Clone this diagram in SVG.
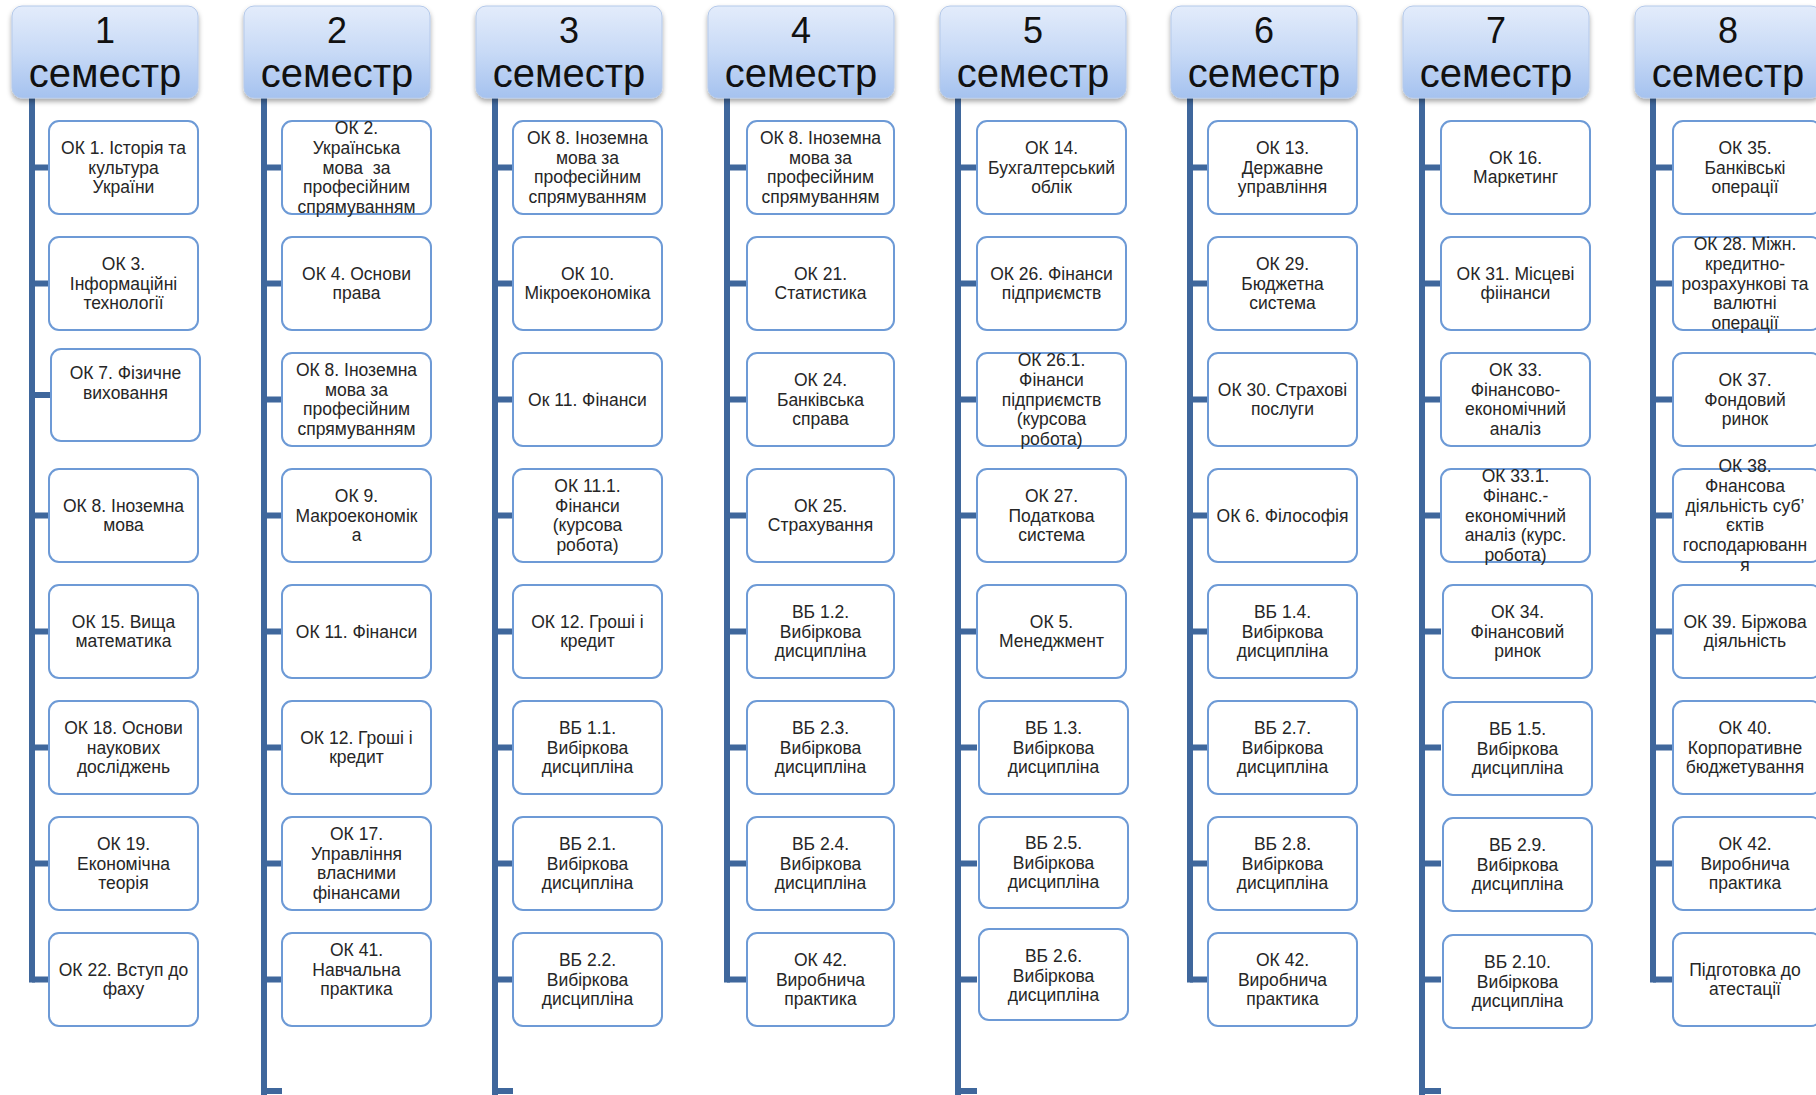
<svg xmlns="http://www.w3.org/2000/svg" width="1816" height="1095" viewBox="0 0 1816 1095">
<defs>
<linearGradient id="hg" x1="0" y1="0" x2="0" y2="1">
<stop offset="0" stop-color="#e3ecfb"/>
<stop offset="0.5" stop-color="#c8daf6"/>
<stop offset="1" stop-color="#a5c2ef"/>
</linearGradient>
<filter id="sh" x="-10%" y="-10%" width="120%" height="135%">
<feDropShadow dx="0" dy="3" stdDeviation="2.5" flood-color="#000" flood-opacity="0.35"/>
</filter>
</defs>
<style>
.hb{fill:url(#hg);stroke:#b4c9ea;stroke-width:1;filter:url(#sh)}
.ht{font-family:"Liberation Sans",Arial,sans-serif;fill:#111;text-anchor:middle}
.hn{font-size:36px}
.hs{font-size:40px}
.box{fill:#fff;stroke:#6d9ad6;stroke-width:2}
.bt{font-family:"Liberation Sans",Arial,sans-serif;font-size:17.5px;fill:#262626;text-anchor:middle}
.cv{stroke:#3f679c;stroke-width:6;fill:none}
</style>
<rect width="1816" height="1095" fill="#fff"/>
<g id="connectors">
<path class="cv" d="M32 98V982.5M264 98V1095M495 98V1095M727 98V982.5M958 98V1095M1190 98V982.5M1422 98V1095M1653 98V982.5"/>
<path class="cv" d="M32 167.5H49M32 283.5H49M32 395H51M32 515.5H49M32 631.5H49M32 747.5H49M32 863.5H49M32 979.5H49"/>
<path class="cv" d="M264 167.5H282M264 283.5H282M264 399.5H282M264 515.5H282M264 631.5H282M264 747.5H282M264 863.5H282M264 979.5H282M264 1091H282"/>
<path class="cv" d="M495 167.5H513M495 283.5H513M495 399.5H513M495 515.5H513M495 631.5H513M495 747.5H513M495 863.5H513M495 979.5H513M495 1091H513"/>
<path class="cv" d="M727 167.5H747M727 283.5H747M727 399.5H747M727 515.5H747M727 631.5H747M727 747.5H747M727 863.5H747M727 979.5H747"/>
<path class="cv" d="M958 167.5H977M958 283.5H977M958 399.5H977M958 515.5H977M958 631.5H977M958 747.5H977M958 863.5H977M958 979.5H977M958 1091H977"/>
<path class="cv" d="M1190 167.5H1208M1190 283.5H1208M1190 399.5H1208M1190 515.5H1208M1190 631.5H1208M1190 747.5H1208M1190 863.5H1208M1190 979.5H1208"/>
<path class="cv" d="M1422 167.5H1441M1422 283.5H1441M1422 399.5H1441M1422 515.5H1441M1422 631.5H1441M1422 747.5H1441M1422 863.5H1441M1422 979.5H1441M1422 1091H1441"/>
<path class="cv" d="M1653 167.5H1673M1653 283.5H1673M1653 399.5H1673M1653 515.5H1673M1653 631.5H1673M1653 747.5H1673M1653 863.5H1673M1653 979.5H1673"/>
</g>

<g id="h1"><rect class="hb" x="12" y="6" width="186" height="92" rx="10"/><text class="ht hn" x="105" y="43">1</text><text class="ht hs" x="105" y="87">семестр</text></g>
<g id="h2"><rect class="hb" x="244" y="6" width="186" height="92" rx="10"/><text class="ht hn" x="337" y="43">2</text><text class="ht hs" x="337" y="87">семестр</text></g>
<g id="h3"><rect class="hb" x="476" y="6" width="186" height="92" rx="10"/><text class="ht hn" x="569" y="43">3</text><text class="ht hs" x="569" y="87">семестр</text></g>
<g id="h4"><rect class="hb" x="708" y="6" width="186" height="92" rx="10"/><text class="ht hn" x="801" y="43">4</text><text class="ht hs" x="801" y="87">семестр</text></g>
<g id="h5"><rect class="hb" x="940" y="6" width="186" height="92" rx="10"/><text class="ht hn" x="1033" y="43">5</text><text class="ht hs" x="1033" y="87">семестр</text></g>
<g id="h6"><rect class="hb" x="1171" y="6" width="186" height="92" rx="10"/><text class="ht hn" x="1264" y="43">6</text><text class="ht hs" x="1264" y="87">семестр</text></g>
<g id="h7"><rect class="hb" x="1403" y="6" width="186" height="92" rx="10"/><text class="ht hn" x="1496" y="43">7</text><text class="ht hs" x="1496" y="87">семестр</text></g>
<g id="h8"><rect class="hb" x="1635" y="6" width="186" height="92" rx="10"/><text class="ht hn" x="1728" y="43">8</text><text class="ht hs" x="1728" y="87">семестр</text></g>

<!-- Column 1 -->
<g id="c1r0"><rect class="box" x="49" y="121" width="149" height="93" rx="10"/><text class="bt" x="123.5" y="153.8"><tspan x="123.5">ОК 1. Історія та</tspan><tspan x="123.5" dy="19.7">культура</tspan><tspan x="123.5" dy="19.7">України</tspan></text></g>
<g id="c1r1"><rect class="box" x="49" y="237" width="149" height="93" rx="10"/><text class="bt" x="123.5" y="269.8"><tspan x="123.5">ОК 3.</tspan><tspan x="123.5" dy="19.7">Інформаційні</tspan><tspan x="123.5" dy="19.7">технології</tspan></text></g>
<g id="c1r2"><rect class="box" x="51" y="349" width="149" height="92" rx="10"/><text class="bt" x="125.5" y="379"><tspan x="125.5">ОК 7. Фізичне</tspan><tspan x="125.5" dy="19.7">виховання</tspan></text></g>
<g id="c1r3"><rect class="box" x="49" y="469" width="149" height="93" rx="10"/><text class="bt" x="123.5" y="511.65"><tspan x="123.5">ОК 8. Іноземна</tspan><tspan x="123.5" dy="19.7">мова</tspan></text></g>
<g id="c1r4"><rect class="box" x="49" y="585" width="149" height="93" rx="10"/><text class="bt" x="123.5" y="627.65"><tspan x="123.5">ОК 15. Вища</tspan><tspan x="123.5" dy="19.7">математика</tspan></text></g>
<g id="c1r5"><rect class="box" x="49" y="701" width="149" height="93" rx="10"/><text class="bt" x="123.5" y="733.8"><tspan x="123.5">ОК 18. Основи</tspan><tspan x="123.5" dy="19.7">наукових</tspan><tspan x="123.5" dy="19.7">досліджень</tspan></text></g>
<g id="c1r6"><rect class="box" x="49" y="817" width="149" height="93" rx="10"/><text class="bt" x="123.5" y="849.8"><tspan x="123.5">ОК 19.</tspan><tspan x="123.5" dy="19.7">Економічна</tspan><tspan x="123.5" dy="19.7">теорія</tspan></text></g>
<g id="c1r7"><rect class="box" x="49" y="933" width="149" height="93" rx="10"/><text class="bt" x="123.5" y="975.65"><tspan x="123.5">ОК 22. Вступ до</tspan><tspan x="123.5" dy="19.7">фаху</tspan></text></g>

<!-- Column 2 -->
<g id="c2r0"><rect class="box" x="282" y="121" width="149" height="93" rx="10"/><text class="bt" x="356.5" y="134.1" xml:space="preserve"><tspan x="356.5">ОК 2.</tspan><tspan x="356.5" dy="19.7">Українська</tspan><tspan x="356.5" dy="19.7">мова  за</tspan><tspan x="356.5" dy="19.7">професійним</tspan><tspan x="356.5" dy="19.7">спрямуванням</tspan></text></g>
<g id="c2r1"><rect class="box" x="282" y="237" width="149" height="93" rx="10"/><text class="bt" x="356.5" y="279.65"><tspan x="356.5">ОК 4. Основи</tspan><tspan x="356.5" dy="19.7">права</tspan></text></g>
<g id="c2r2"><rect class="box" x="282" y="353" width="149" height="93" rx="10"/><text class="bt" x="356.5" y="375.95"><tspan x="356.5">ОК 8. Іноземна</tspan><tspan x="356.5" dy="19.7">мова за</tspan><tspan x="356.5" dy="19.7">професійним</tspan><tspan x="356.5" dy="19.7">спрямуванням</tspan></text></g>
<g id="c2r3"><rect class="box" x="282" y="469" width="149" height="93" rx="10"/><text class="bt" x="356.5" y="501.8"><tspan x="356.5">ОК 9.</tspan><tspan x="356.5" dy="19.7">Макроекономік</tspan><tspan x="356.5" dy="19.7">а</tspan></text></g>
<g id="c2r4"><rect class="box" x="282" y="585" width="149" height="93" rx="10"/><text class="bt" x="356.5" y="637.5">ОК 11. Фінанси</text></g>
<g id="c2r5"><rect class="box" x="282" y="701" width="149" height="93" rx="10"/><text class="bt" x="356.5" y="743.65"><tspan x="356.5">ОК 12. Гроші і</tspan><tspan x="356.5" dy="19.7">кредит</tspan></text></g>
<g id="c2r6"><rect class="box" x="282" y="817" width="149" height="93" rx="10"/><text class="bt" x="356.5" y="839.95"><tspan x="356.5">ОК 17.</tspan><tspan x="356.5" dy="19.7">Управління</tspan><tspan x="356.5" dy="19.7">власними</tspan><tspan x="356.5" dy="19.7">фінансами</tspan></text></g>
<g id="c2r7"><rect class="box" x="282" y="933" width="149" height="93" rx="10"/><text class="bt" x="356.5" y="955.95"><tspan x="356.5">ОК 41.</tspan><tspan x="356.5" dy="19.7">Навчальна</tspan><tspan x="356.5" dy="19.7">практика</tspan></text></g>

<!-- Column 3 -->
<g id="c3r0"><rect class="box" x="513" y="121" width="149" height="93" rx="10"/><text class="bt" x="587.5" y="143.95"><tspan x="587.5">ОК 8. Іноземна</tspan><tspan x="587.5" dy="19.7">мова за</tspan><tspan x="587.5" dy="19.7">професійним</tspan><tspan x="587.5" dy="19.7">спрямуванням</tspan></text></g>
<g id="c3r1"><rect class="box" x="513" y="237" width="149" height="93" rx="10"/><text class="bt" x="587.5" y="279.65"><tspan x="587.5">ОК 10.</tspan><tspan x="587.5" dy="19.7">Мікроекономіка</tspan></text></g>
<g id="c3r2"><rect class="box" x="513" y="353" width="149" height="93" rx="10"/><text class="bt" x="587.5" y="405.5">Ок 11. Фінанси</text></g>
<g id="c3r3"><rect class="box" x="513" y="469" width="149" height="93" rx="10"/><text class="bt" x="587.5" y="491.95"><tspan x="587.5">ОК 11.1.</tspan><tspan x="587.5" dy="19.7">Фінанси</tspan><tspan x="587.5" dy="19.7">(курсова</tspan><tspan x="587.5" dy="19.7">робота)</tspan></text></g>
<g id="c3r4"><rect class="box" x="513" y="585" width="149" height="93" rx="10"/><text class="bt" x="587.5" y="627.65"><tspan x="587.5">ОК 12. Гроші і</tspan><tspan x="587.5" dy="19.7">кредит</tspan></text></g>
<g id="c3r5"><rect class="box" x="513" y="701" width="149" height="93" rx="10"/><text class="bt" x="587.5" y="733.8"><tspan x="587.5">ВБ 1.1.</tspan><tspan x="587.5" dy="19.7">Вибіркова</tspan><tspan x="587.5" dy="19.7">дисципліна</tspan></text></g>
<g id="c3r6"><rect class="box" x="513" y="817" width="149" height="93" rx="10"/><text class="bt" x="587.5" y="849.8"><tspan x="587.5">ВБ 2.1.</tspan><tspan x="587.5" dy="19.7">Вибіркова</tspan><tspan x="587.5" dy="19.7">дисципліна</tspan></text></g>
<g id="c3r7"><rect class="box" x="513" y="933" width="149" height="93" rx="10"/><text class="bt" x="587.5" y="965.8"><tspan x="587.5">ВБ 2.2.</tspan><tspan x="587.5" dy="19.7">Вибіркова</tspan><tspan x="587.5" dy="19.7">дисципліна</tspan></text></g>

<!-- Column 4 -->
<g id="c4r0"><rect class="box" x="747" y="121" width="147" height="93" rx="10"/><text class="bt" x="820.5" y="143.95"><tspan x="820.5">ОК 8. Іноземна</tspan><tspan x="820.5" dy="19.7">мова за</tspan><tspan x="820.5" dy="19.7">професійним</tspan><tspan x="820.5" dy="19.7">спрямуванням</tspan></text></g>
<g id="c4r1"><rect class="box" x="747" y="237" width="147" height="93" rx="10"/><text class="bt" x="820.5" y="279.65"><tspan x="820.5">ОК 21.</tspan><tspan x="820.5" dy="19.7">Статистика</tspan></text></g>
<g id="c4r2"><rect class="box" x="747" y="353" width="147" height="93" rx="10"/><text class="bt" x="820.5" y="385.8"><tspan x="820.5">ОК 24.</tspan><tspan x="820.5" dy="19.7">Банківська</tspan><tspan x="820.5" dy="19.7">справа</tspan></text></g>
<g id="c4r3"><rect class="box" x="747" y="469" width="147" height="93" rx="10"/><text class="bt" x="820.5" y="511.65"><tspan x="820.5">ОК 25.</tspan><tspan x="820.5" dy="19.7">Страхування</tspan></text></g>
<g id="c4r4"><rect class="box" x="747" y="585" width="147" height="93" rx="10"/><text class="bt" x="820.5" y="617.8"><tspan x="820.5">ВБ 1.2.</tspan><tspan x="820.5" dy="19.7">Вибіркова</tspan><tspan x="820.5" dy="19.7">дисципліна</tspan></text></g>
<g id="c4r5"><rect class="box" x="747" y="701" width="147" height="93" rx="10"/><text class="bt" x="820.5" y="733.8"><tspan x="820.5">ВБ 2.3.</tspan><tspan x="820.5" dy="19.7">Вибіркова</tspan><tspan x="820.5" dy="19.7">дисципліна</tspan></text></g>
<g id="c4r6"><rect class="box" x="747" y="817" width="147" height="93" rx="10"/><text class="bt" x="820.5" y="849.8"><tspan x="820.5">ВБ 2.4.</tspan><tspan x="820.5" dy="19.7">Вибіркова</tspan><tspan x="820.5" dy="19.7">дисципліна</tspan></text></g>
<g id="c4r7"><rect class="box" x="747" y="933" width="147" height="93" rx="10"/><text class="bt" x="820.5" y="965.8"><tspan x="820.5">ОК 42.</tspan><tspan x="820.5" dy="19.7">Виробнича</tspan><tspan x="820.5" dy="19.7">практика</tspan></text></g>

<!-- Column 5 -->
<g id="c5r0"><rect class="box" x="977" y="121" width="149" height="93" rx="10"/><text class="bt" x="1051.5" y="153.8"><tspan x="1051.5">ОК 14.</tspan><tspan x="1051.5" dy="19.7">Бухгалтерський</tspan><tspan x="1051.5" dy="19.7">облік</tspan></text></g>
<g id="c5r1"><rect class="box" x="977" y="237" width="149" height="93" rx="10"/><text class="bt" x="1051.5" y="279.65"><tspan x="1051.5">ОК 26. Фінанси</tspan><tspan x="1051.5" dy="19.7">підприємств</tspan></text></g>
<g id="c5r2"><rect class="box" x="977" y="353" width="149" height="93" rx="10"/><text class="bt" x="1051.5" y="366.1"><tspan x="1051.5">ОК 26.1.</tspan><tspan x="1051.5" dy="19.7">Фінанси</tspan><tspan x="1051.5" dy="19.7">підприємств</tspan><tspan x="1051.5" dy="19.7">(курсова</tspan><tspan x="1051.5" dy="19.7">робота)</tspan></text></g>
<g id="c5r3"><rect class="box" x="977" y="469" width="149" height="93" rx="10"/><text class="bt" x="1051.5" y="501.8"><tspan x="1051.5">ОК 27.</tspan><tspan x="1051.5" dy="19.7">Податкова</tspan><tspan x="1051.5" dy="19.7">система</tspan></text></g>
<g id="c5r4"><rect class="box" x="977" y="585" width="149" height="93" rx="10"/><text class="bt" x="1051.5" y="627.65"><tspan x="1051.5">ОК 5.</tspan><tspan x="1051.5" dy="19.7">Менеджмент</tspan></text></g>
<g id="c5r5"><rect class="box" x="979" y="701" width="149" height="93" rx="10"/><text class="bt" x="1053.5" y="733.8"><tspan x="1053.5">ВБ 1.3.</tspan><tspan x="1053.5" dy="19.7">Вибіркова</tspan><tspan x="1053.5" dy="19.7">дисципліна</tspan></text></g>
<g id="c5r6"><rect class="box" x="979" y="817" width="149" height="91" rx="10"/><text class="bt" x="1053.5" y="848.8"><tspan x="1053.5">ВБ 2.5.</tspan><tspan x="1053.5" dy="19.7">Вибіркова</tspan><tspan x="1053.5" dy="19.7">дисципліна</tspan></text></g>
<g id="c5r7"><rect class="box" x="979" y="929" width="149" height="91" rx="10"/><text class="bt" x="1053.5" y="961.8"><tspan x="1053.5">ВБ 2.6.</tspan><tspan x="1053.5" dy="19.7">Вибіркова</tspan><tspan x="1053.5" dy="19.7">дисципліна</tspan></text></g>

<!-- Column 6 -->
<g id="c6r0"><rect class="box" x="1208" y="121" width="149" height="93" rx="10"/><text class="bt" x="1282.5" y="153.8"><tspan x="1282.5">ОК 13.</tspan><tspan x="1282.5" dy="19.7">Державне</tspan><tspan x="1282.5" dy="19.7">управління</tspan></text></g>
<g id="c6r1"><rect class="box" x="1208" y="237" width="149" height="93" rx="10"/><text class="bt" x="1282.5" y="269.8"><tspan x="1282.5">ОК 29.</tspan><tspan x="1282.5" dy="19.7">Бюджетна</tspan><tspan x="1282.5" dy="19.7">система</tspan></text></g>
<g id="c6r2"><rect class="box" x="1208" y="353" width="149" height="93" rx="10"/><text class="bt" x="1282.5" y="395.65"><tspan x="1282.5">ОК 30. Страхові</tspan><tspan x="1282.5" dy="19.7">послуги</tspan></text></g>
<g id="c6r3"><rect class="box" x="1208" y="469" width="149" height="93" rx="10"/><text class="bt" x="1282.5" y="521.5">ОК 6. Філософія</text></g>
<g id="c6r4"><rect class="box" x="1208" y="585" width="149" height="93" rx="10"/><text class="bt" x="1282.5" y="617.8"><tspan x="1282.5">ВБ 1.4.</tspan><tspan x="1282.5" dy="19.7">Вибіркова</tspan><tspan x="1282.5" dy="19.7">дисципліна</tspan></text></g>
<g id="c6r5"><rect class="box" x="1208" y="701" width="149" height="93" rx="10"/><text class="bt" x="1282.5" y="733.8"><tspan x="1282.5">ВБ 2.7.</tspan><tspan x="1282.5" dy="19.7">Вибіркова</tspan><tspan x="1282.5" dy="19.7">дисципліна</tspan></text></g>
<g id="c6r6"><rect class="box" x="1208" y="817" width="149" height="93" rx="10"/><text class="bt" x="1282.5" y="849.8"><tspan x="1282.5">ВБ 2.8.</tspan><tspan x="1282.5" dy="19.7">Вибіркова</tspan><tspan x="1282.5" dy="19.7">дисципліна</tspan></text></g>
<g id="c6r7"><rect class="box" x="1208" y="933" width="149" height="93" rx="10"/><text class="bt" x="1282.5" y="965.8"><tspan x="1282.5">ОК 42.</tspan><tspan x="1282.5" dy="19.7">Виробнича</tspan><tspan x="1282.5" dy="19.7">практика</tspan></text></g>

<!-- Column 7 -->
<g id="c7r0"><rect class="box" x="1441" y="121" width="149" height="93" rx="10"/><text class="bt" x="1515.5" y="163.65"><tspan x="1515.5">ОК 16.</tspan><tspan x="1515.5" dy="19.7">Маркетинг</tspan></text></g>
<g id="c7r1"><rect class="box" x="1441" y="237" width="149" height="93" rx="10"/><text class="bt" x="1515.5" y="279.65"><tspan x="1515.5">ОК 31. Місцеві</tspan><tspan x="1515.5" dy="19.7">фіінанси</tspan></text></g>
<g id="c7r2"><rect class="box" x="1441" y="353" width="149" height="93" rx="10"/><text class="bt" x="1515.5" y="375.95"><tspan x="1515.5">ОК 33.</tspan><tspan x="1515.5" dy="19.7">Фінансово-</tspan><tspan x="1515.5" dy="19.7">економічний</tspan><tspan x="1515.5" dy="19.7">аналіз</tspan></text></g>
<g id="c7r3"><rect class="box" x="1441" y="469" width="149" height="93" rx="10"/><text class="bt" x="1515.5" y="482.1"><tspan x="1515.5">ОК 33.1.</tspan><tspan x="1515.5" dy="19.7">Фінанс.-</tspan><tspan x="1515.5" dy="19.7">економічний</tspan><tspan x="1515.5" dy="19.7">аналіз (курс.</tspan><tspan x="1515.5" dy="19.7">робота)</tspan></text></g>
<g id="c7r4"><rect class="box" x="1443" y="585" width="149" height="93" rx="10"/><text class="bt" x="1517.5" y="617.8"><tspan x="1517.5">ОК 34.</tspan><tspan x="1517.5" dy="19.7">Фінансовий</tspan><tspan x="1517.5" dy="19.7">ринок</tspan></text></g>
<g id="c7r5"><rect class="box" x="1443" y="702" width="149" height="93" rx="10"/><text class="bt" x="1517.5" y="734.8"><tspan x="1517.5">ВБ 1.5.</tspan><tspan x="1517.5" dy="19.7">Вибіркова</tspan><tspan x="1517.5" dy="19.7">дисципліна</tspan></text></g>
<g id="c7r6"><rect class="box" x="1443" y="818" width="149" height="93" rx="10"/><text class="bt" x="1517.5" y="850.8"><tspan x="1517.5">ВБ 2.9.</tspan><tspan x="1517.5" dy="19.7">Вибіркова</tspan><tspan x="1517.5" dy="19.7">дисципліна</tspan></text></g>
<g id="c7r7"><rect class="box" x="1443" y="935" width="149" height="93" rx="10"/><text class="bt" x="1517.5" y="967.8"><tspan x="1517.5">ВБ 2.10.</tspan><tspan x="1517.5" dy="19.7">Вибіркова</tspan><tspan x="1517.5" dy="19.7">дисципліна</tspan></text></g>

<!-- Column 8 -->
<g id="c8r0"><rect class="box" x="1673" y="121" width="148" height="93" rx="10"/><text class="bt" x="1745" y="153.8"><tspan x="1745">ОК 35.</tspan><tspan x="1745" dy="19.7">Банківські</tspan><tspan x="1745" dy="19.7">операції</tspan></text></g>
<g id="c8r1"><rect class="box" x="1673" y="237" width="148" height="93" rx="10"/><text class="bt" x="1745" y="250.1"><tspan x="1745">ОК 28. Міжн.</tspan><tspan x="1745" dy="19.7">кредитно-</tspan><tspan x="1745" dy="19.7">розрахункові та</tspan><tspan x="1745" dy="19.7">валютні</tspan><tspan x="1745" dy="19.7">операції</tspan></text></g>
<g id="c8r2"><rect class="box" x="1673" y="353" width="148" height="93" rx="10"/><text class="bt" x="1745" y="385.8"><tspan x="1745">ОК 37.</tspan><tspan x="1745" dy="19.7">Фондовий</tspan><tspan x="1745" dy="19.7">ринок</tspan></text></g>
<g id="c8r3"><rect class="box" x="1673" y="469" width="148" height="93" rx="10"/><text class="bt" x="1745" y="472.25"><tspan x="1745">ОК 38.</tspan><tspan x="1745" dy="19.7">Фнансова</tspan><tspan x="1745" dy="19.7">діяльність суб’</tspan><tspan x="1745" dy="19.7">єктів</tspan><tspan x="1745" dy="19.7">господарюванн</tspan><tspan x="1745" dy="19.7">я</tspan></text></g>
<g id="c8r4"><rect class="box" x="1673" y="585" width="148" height="93" rx="10"/><text class="bt" x="1745" y="627.65"><tspan x="1745">ОК 39. Біржова</tspan><tspan x="1745" dy="19.7">діяльність</tspan></text></g>
<g id="c8r5"><rect class="box" x="1673" y="701" width="148" height="93" rx="10"/><text class="bt" x="1745" y="733.8"><tspan x="1745">ОК 40.</tspan><tspan x="1745" dy="19.7">Корпоративне</tspan><tspan x="1745" dy="19.7">бюджетування</tspan></text></g>
<g id="c8r6"><rect class="box" x="1673" y="817" width="148" height="93" rx="10"/><text class="bt" x="1745" y="849.8"><tspan x="1745">ОК 42.</tspan><tspan x="1745" dy="19.7">Виробнича</tspan><tspan x="1745" dy="19.7">практика</tspan></text></g>
<g id="c8r7"><rect class="box" x="1673" y="933" width="148" height="93" rx="10"/><text class="bt" x="1745" y="975.65"><tspan x="1745">Підготовка до</tspan><tspan x="1745" dy="19.7">атестації</tspan></text></g>
</svg>
